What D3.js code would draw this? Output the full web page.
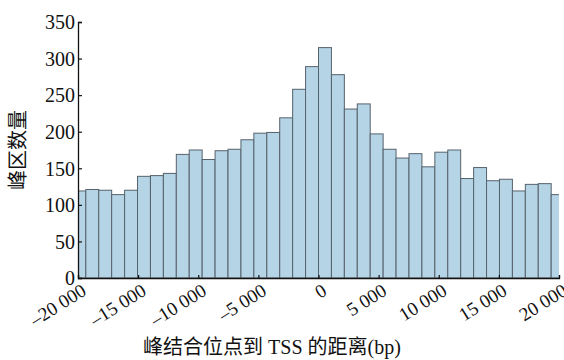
<!DOCTYPE html>
<html>
<head>
<meta charset="utf-8">
<script src="https://cdn.jsdelivr.net/npm/d3@7"></script>
<style>
  html, body { margin: 0; padding: 0; background: #fff; }
  svg { display: block; }
</style>
</head>
<body>
<svg id="chart" width="564" height="360"></svg>
<script>
// Peak counts per distance bin (bp), bins of equal width centred around the TSS
const binWidth = 1075;
const binIndex = d3.range(-19, 19);           // bin k covers [k*binWidth, (k+1)*binWidth)
const peakCounts = [
  119, 121, 120, 114, 120, 139, 140, 143, 169, 175,
  162, 174, 176, 189, 198, 199, 219, 258, 289, 315,
  278, 231, 238, 197, 176, 164, 170, 152, 172, 175,
  136, 151, 133, 135, 119, 128, 129, 114
];
const xTicks = [-20000, -15000, -10000, -5000, 0, 5000, 10000, 15000, 20000];
const yTicks = [0, 50, 100, 150, 200, 250, 300, 350];
const xTitle = "峰结合位点到 TSS 的距离(bp)";
const yTitle = "峰区数量";

const FONT = "Liberation Serif, DejaVu Serif, Noto Sans CJK SC";
const INK = "#111111";

const bins = binIndex.map((k, i) => ({ x0: k * binWidth, x1: (k + 1) * binWidth, n: peakCounts[i] }));

const svg = d3.select("#chart").attr("font-family", FONT);
const plot = { left: 78, right: 559, top: 22, bottom: 278 };

const x = d3.scaleLinear().domain([-20000, 20000]).range([plot.left, plot.right]);
const y = d3.scaleLinear().domain([0, 350]).range([plot.bottom, plot.top]);

svg.append("defs").append("clipPath").attr("id", "plotClip")
  .append("rect")
  .attr("x", plot.left).attr("y", 0)
  .attr("width", plot.right - plot.left).attr("height", plot.bottom);

// Histogram bars
svg.append("g").attr("clip-path", "url(#plotClip)")
  .selectAll("rect").data(bins).join("rect")
  .attr("x", d => x(d.x0))
  .attr("y", d => y(d.n))
  .attr("width", d => x(d.x1) - x(d.x0))
  .attr("height", d => y(0) - y(d.n))
  .attr("fill", "#b5d4e6")
  .attr("stroke", "#56626c")
  .attr("stroke-width", 1);

const fmt = d => {
  if (d === 0) return "0";
  const s = d3.format(",")(Math.abs(d)).replace(/,/g, " ");
  return (d < 0 ? "\u2013" : "") + s;
};

// Y axis (ticks point inward)
const yAxis = svg.append("g")
  .attr("transform", `translate(${plot.left},0)`)
  .call(d3.axisLeft(y).tickValues(yTicks).tickSize(-4).tickFormat(d3.format("d")));
yAxis.attr("font-family", FONT).attr("font-size", 20);
yAxis.select(".domain").attr("stroke", INK).attr("stroke-width", 1.3);
yAxis.selectAll(".tick line").attr("stroke", INK).attr("stroke-width", 1.2);
yAxis.selectAll(".tick text")
  .attr("x", -3)
  .attr("dy", "0.34em")
  .attr("font-family", FONT)
  .attr("font-size", 20)
  .attr("fill", INK);

// X axis (ticks point inward, labels slanted)
const xAxis = svg.append("g")
  .attr("transform", `translate(0,${plot.bottom})`)
  .call(d3.axisBottom(x).tickValues(xTicks).tickSize(-3).tickFormat(fmt));
xAxis.attr("font-family", FONT).attr("font-size", 19);
xAxis.select(".domain").attr("stroke", INK).attr("stroke-width", 1.3);
xAxis.selectAll(".tick line").attr("stroke", INK).attr("stroke-width", 1.2);
xAxis.selectAll(".tick text")
  .attr("x", null).attr("y", null).attr("dy", null)
  .attr("text-anchor", "end")
  .attr("transform", "translate(9,16) rotate(-32)")
  .attr("font-family", FONT)
  .attr("font-size", 19)
  .attr("fill", INK);

// Axis titles
svg.append("text")
  .attr("transform", "translate(25,150) rotate(-90)")
  .attr("text-anchor", "middle")
  .attr("font-family", FONT)
  .attr("font-size", 20)
  .attr("fill", INK)
  .text(yTitle);

svg.append("text")
  .attr("x", 272).attr("y", 354)
  .attr("text-anchor", "middle")
  .attr("font-family", FONT)
  .attr("font-size", 20)
  .attr("fill", INK)
  .text(xTitle);
</script>
</body>
</html>
